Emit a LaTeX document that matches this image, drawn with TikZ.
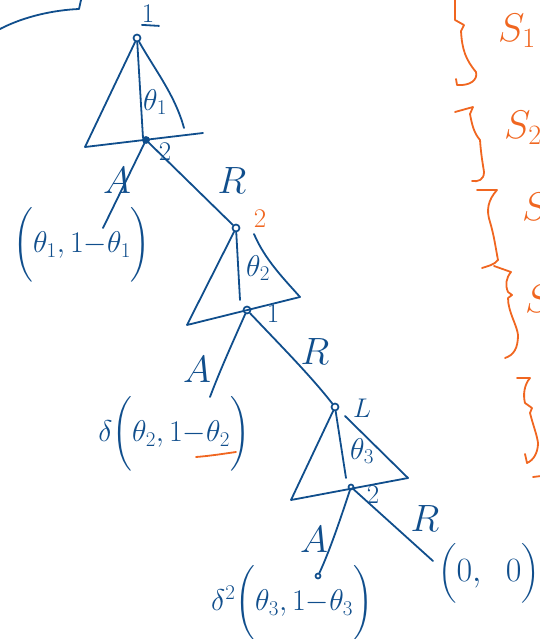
\RequirePackage{fix-cm}
\documentclass[tikz,border=0pt]{standalone}
\usepackage{amsmath}
\definecolor{penblue}{RGB}{16,78,140}
\definecolor{penorange}{RGB}{240,102,32}
\begin{document}
\begin{tikzpicture}[x=1pt,y=-1pt,
  ink/.style={draw=penblue, line width=1.8pt, line cap=round, line join=round},
  orng/.style={draw=penorange, line width=1.8pt, line cap=round, line join=round},
  dot/.style={circle, draw=penblue, line width=1.7pt, inner sep=0pt, minimum size=7pt},
  lbl/.style={text=penblue, inner sep=1pt, font=\fontsize{27}{30}\selectfont},
  thl/.style={text=penblue, inner sep=1pt, font=\fontsize{30}{33}\selectfont},
  big/.style={text=penblue, inner sep=0pt, font=\fontsize{38}{42}\selectfont},
  olbl/.style={text=penorange, inner sep=1pt, font=\fontsize{27}{30}\selectfont},
  slbl/.style={text=penorange, inner sep=1pt, font=\fontsize{40}{44}\selectfont},
  leaf/.style={text=penblue, inner sep=1pt, font=\fontsize{30}{34}\selectfont}]
\useasboundingbox (0,0) rectangle (540,639);
\clip (0,0) rectangle (540,639);

% top-left arc
\coordinate (arcA) at (0,29);
\coordinate (arcB) at (79,9);
\coordinate (arcC) at (81,0);
\draw[ink] (arcA) .. controls (25,16) and (55,10) .. (arcB) -- (arcC);

% decision points
\node[dot] (n1) at (137,38) {};
\node[dot, fill=penblue, minimum size=6pt] (n2) at (146,140) {};
\node[dot] (n3) at (236,228) {};
\node[dot] (n4) at (247,310) {};
\node[dot] (n5) at (335,407) {};
\node[dot, minimum size=5pt] (n6) at (351,487) {};
\node[dot, minimum size=5pt] (n7) at (318,576) {};

% triangle 1
\coordinate (t1l) at (85,147);
\coordinate (t1r) at (203,133);
\coordinate (t1s) at (184,128);
\coordinate (t1v) at (143,138);
\draw[ink] (n1) -- (t1l) -- (t1r);
\draw[ink] (n1) .. controls (155,70) and (175,95) .. (t1s);
\draw[ink] (n1) -- (t1v);
\node[thl] (th1) at (155,102) {$\theta_1$};
\node[lbl] (p1) at (148,14) {$1$};
\draw[ink] ([xshift=-6pt,yshift=-1pt]p1.south) -- ([xshift=11pt,yshift=-2pt]p1.south);
\node[lbl] (p2) at (165,152) {$2$};

% branches from n2
\coordinate (a1end) at (103,228);
\draw[ink] (n2) -- (a1end);
\draw[ink] (n2) -- (n3);
\node[big] (A1) at (117,181) {$A$};
\node[big] (R1) at (232,181) {$R$};
\node[leaf] (leaf1) at (82,245) {$\bigg(\theta_1,1{-}\theta_1\bigg)$};

% triangle 2
\coordinate (t2l) at (187,325);
\coordinate (t2r) at (300,297);
\coordinate (t2s) at (254,234);
\coordinate (t2v) at (240,300);
\draw[ink] (n3) -- (t2l) -- (t2r);
\draw[ink] (t2s) .. controls (265,260) and (285,280) .. (t2r);
\draw[ink] (n3) -- (t2v);
\node[thl] (th2) at (258,268) {$\theta_2$};
\node[olbl] (p3) at (260,219) {$2$};
\node[lbl] (p4) at (273,314) {$1$};

% branches from n4
\coordinate (a2end) at (210,397);
\draw[ink] (n4) .. controls (236,335) and (220,370) .. (a2end);
\draw[ink] (n4) .. controls (280,345) and (310,375) .. (n5);
\node[big] (A2) at (197,370) {$A$};
\node[big] (R2) at (315,352) {$R$};
\node[leaf] (leaf2) at (174,434) {$\delta\bigg(\theta_2,1{-}\theta_2\bigg)$};
\draw[orng] (196,457) .. controls (209,456) and (222,454) .. (236,452);

% triangle 3
\coordinate (t3l) at (291,500);
\coordinate (t3r) at (408,478);
\coordinate (t3s) at (345,416);
\coordinate (t3v) at (346,478);
\draw[ink] (n5) -- (t3l) -- (t3r);
\draw[ink] (t3s) -- (t3r);
\draw[ink] (n5) -- (t3v);
\node[thl] (th3) at (362,451) {$\theta_3$};
\node[lbl] (p5) at (362,408) {$L$};
\node[lbl] (p6) at (373,495) {$2$};

% branches from n6
\coordinate (r3end) at (433,561);
\draw[ink] (n6) .. controls (340,520) and (330,550) .. (n7);
\draw[ink] (n6) -- (r3end);
\node[big] (A3) at (314,540) {$A$};
\node[big] (R3) at (425,519) {$R$};
\node[leaf, inner sep=0pt, font=\fontsize{34}{38}\selectfont] (leaf4) at (489,573) {$\Big(0,\;\;0\Big)$};
\node[leaf] (leaf3) at (292,603) {$\delta^2\bigg(\theta_3,1{-}\theta_3\bigg)$};

% orange braces
\draw[orng] (455,0) -- (455,20) -- (464,25) -- (461,31) .. controls (462,50) and (466,60) .. (476,72) .. controls (478,80) and (470,86) .. (457,85) -- (456,79);
\draw[orng] (455,112) -- (473,107) -- (470,114) .. controls (472,125) and (474,133) .. (480,140) .. controls (481,155) and (483,165) .. (484,172) .. controls (484,180) and (478,182) .. (472,181);
\draw[orng] (477,190) -- (497,190) .. controls (488,200) and (486,210) .. (490,222) .. controls (494,235) and (496,250) .. (498,260) .. controls (494,265) and (488,266) .. (482,268);
\draw[orng] (494,266) -- (511,272) .. controls (506,278) and (505,285) .. (508,292) -- (512,295) -- (508,298) .. controls (508,312) and (517,325) .. (518,335) .. controls (518,348) and (514,355) .. (505,358);
\draw[orng] (517,378) -- (530,378) .. controls (524,385) and (523,395) .. (525,403) -- (532,408) -- (530,413) .. controls (533,425) and (537,435) .. (538,443) .. controls (538,452) and (534,460) .. (527,463) -- (525,454);
\draw[orng] (533,477) -- (541,476);
\node[slbl, anchor=west] (s1) at (497,31) {$S_1$};
\node[slbl, anchor=west] (s2) at (503,128) {$S_2$};
\node[slbl, anchor=west] (s3) at (521,210) {$S_3$};
\node[slbl, anchor=west] (s4) at (524,302) {$S_4$};
\end{tikzpicture}
\end{document}
